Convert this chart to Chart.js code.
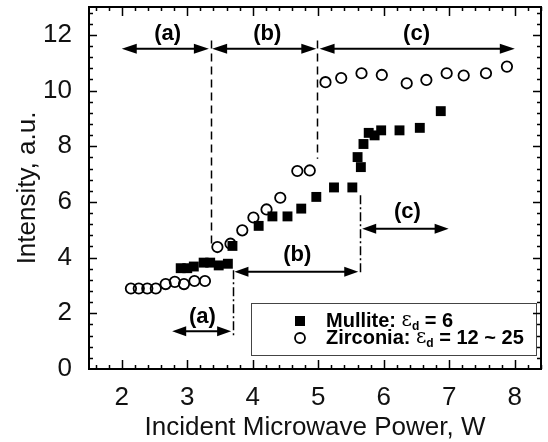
<!DOCTYPE html>
<html>
<head>
<meta charset="utf-8">
<script src="https://cdn.jsdelivr.net/npm/chart.js@4.4.0/dist/chart.umd.min.js"></script>
<style>
  html, body { margin: 0; padding: 0; background: #fff; }
  #wrap { width: 548px; height: 442px; }
</style>
</head>
<body>
<div id="wrap"><canvas id="chart"></canvas></div>
<script>
// Mullite (filled squares)
const mulliteX = [2.9, 3.0, 3.1, 3.25, 3.35, 3.48, 3.62, 3.69, 4.09, 4.3, 4.53, 4.74, 4.97, 5.24, 5.52, 5.6, 5.65, 5.69, 5.77, 5.86, 5.96, 6.24, 6.55, 6.87];
const mulliteY = [3.62, 3.62, 3.68, 3.82, 3.82, 3.72, 3.78, 4.42, 5.14, 5.48, 5.48, 5.76, 6.18, 6.52, 6.52, 7.61, 7.25, 8.08, 8.48, 8.39, 8.57, 8.57, 8.66, 9.26];

// Zirconia (open circles)
const zirconiaX = [2.14, 2.26, 2.39, 2.52, 2.67, 2.81, 2.95, 3.11, 3.27, 3.46, 3.66, 3.84, 4.01, 4.21, 4.42, 4.68, 4.87, 5.11, 5.35, 5.66, 5.97, 6.35, 6.65, 6.96, 7.22, 7.56, 7.88];
const zirconiaY = [2.89, 2.89, 2.89, 2.89, 3.05, 3.13, 3.05, 3.16, 3.16, 4.38, 4.5, 4.98, 5.44, 5.73, 6.15, 7.11, 7.13, 10.3, 10.45, 10.62, 10.56, 10.26, 10.38, 10.62, 10.54, 10.62, 10.86];

const xTicks = [2, 3, 4, 5, 6, 7, 8];
const yTicks = [0, 2, 4, 6, 8, 10, 12];

// heating regimes: dashed lines + arrows (data units)
const zirconiaSpans = [
  { label: '(a)', from: 2.0, to: 3.33, labelX: 2.7 },
  { label: '(b)', from: 3.38, to: 4.97, labelX: 4.22 },
  { label: '(c)', from: 5.02, to: 8.0, labelX: 6.5 }
];
const zirconiaBounds = [{ x: 3.36, top: 11.8, bottom: 4.5 }, { x: 4.98, top: 11.8, bottom: 7.55 }];
const mulliteSpans = [
  { label: '(a)', from: 2.77, to: 3.67, y: 1.36, labelX: 3.23, labelY: 1.87 },
  { label: '(b)', from: 3.72, to: 5.61, y: 3.49, labelX: 4.68, labelY: 4.1 },
  { label: '(c)', from: 5.67, to: 6.99, y: 5.04, labelX: 6.36, labelY: 5.64 }
];
const mulliteBounds = [{ x: 3.7, top: 3.55, bottom: 1.1 }, { x: 5.63, top: 6.24, bottom: 3.37 }];

const toPoints = (xs, ys) => xs.map((v, i) => ({ x: v, y: ys[i] }));

function arrowHead(ctx, x, y, dir, len, half) {
  ctx.beginPath();
  ctx.moveTo(x, y);
  ctx.lineTo(x - dir * len, y - half);
  ctx.lineTo(x - dir * len, y + half);
  ctx.closePath();
  ctx.fill();
}

function doubleArrow(ctx, x1, x2, y, len, half) {
  ctx.beginPath();
  ctx.moveTo(x1 + len - 1, y);
  ctx.lineTo(x2 - len + 1, y);
  ctx.stroke();
  arrowHead(ctx, x1, y, -1, len, half);
  arrowHead(ctx, x2, y, 1, len, half);
}

const annotate = {
  id: 'annotate',
  afterDatasetsDraw(chart) {
    const { ctx, chartArea: a, scales: { x, y } } = chart;
    const px = v => x.getPixelForValue(v);
    const py = v => y.getPixelForValue(v);
    ctx.save();
    ctx.strokeStyle = '#000';
    ctx.fillStyle = '#000';

    // vertical boundaries
    ctx.lineWidth = 1.5;
    ctx.setLineDash([8, 5]);
    zirconiaBounds.forEach(b => {
      ctx.beginPath();
      ctx.moveTo(Math.round(px(b.x)) + 0.5, py(b.top));
      ctx.lineTo(Math.round(px(b.x)) + 0.5, py(b.bottom));
      ctx.stroke();
    });
    ctx.setLineDash([9, 3, 2, 3]);
    mulliteBounds.forEach(b => {
      ctx.beginPath();
      ctx.moveTo(Math.round(px(b.x)) + 0.5, py(b.top));
      ctx.lineTo(Math.round(px(b.x)) + 0.5, py(b.bottom));
      ctx.stroke();
    });
    ctx.setLineDash([]);

    // arrows
    ctx.lineWidth = 2;
    ctx.font = 'bold 22px "Liberation Sans", Arial, sans-serif';
    ctx.textAlign = 'center';
    ctx.textBaseline = 'middle';
    zirconiaSpans.forEach(s => {
      doubleArrow(ctx, px(s.from), px(s.to), py(11.5), 15, 5);
      ctx.fillText(s.label, px(s.labelX), py(12.05));
    });
    mulliteSpans.forEach(s => {
      doubleArrow(ctx, px(s.from), px(s.to), py(s.y), 14, 5);
      ctx.fillText(s.label, px(s.labelX), py(s.labelY));
    });

    // legend
    const lx = a.right - 290, ly = a.bottom - 66, lw = 285, lh = 52;
    ctx.lineWidth = 1;
    ctx.strokeStyle = '#444';
    ctx.strokeRect(Math.round(lx) + 0.5, Math.round(ly) + 0.5, lw, lh);
    ctx.strokeStyle = '#000';
    const rows = [
      { name: 'Mullite:', val: ' = 6', style: 'rect', yy: ly + 18 },
      { name: 'Zirconia:', val: ' = 12 ~ 25', style: 'circle', yy: ly + 35 }
    ];
    rows.forEach(r => {
      const mx = lx + 49;
      if (r.style === 'rect') {
        ctx.fillRect(mx - 5, r.yy - 5, 10, 10);
      } else {
        ctx.lineWidth = 1.8;
        ctx.beginPath();
        ctx.arc(mx, r.yy, 5, 0, Math.PI * 2);
        ctx.stroke();
      }
      let tx = lx + 75;
      ctx.textAlign = 'left';
      ctx.textBaseline = 'middle';
      ctx.font = 'bold 20px "Liberation Sans", Arial, sans-serif';
      ctx.fillText(r.name + ' ', tx, r.yy);
      tx += ctx.measureText(r.name + ' ').width;
      ctx.font = '20px "DejaVu Serif", serif';
      ctx.fillText('\u03B5', tx, r.yy);
      tx += ctx.measureText('\u03B5').width;
      ctx.font = 'bold 12px "Liberation Sans", Arial, sans-serif';
      ctx.fillText('d', tx, r.yy + 6);
      tx += ctx.measureText('d').width;
      ctx.font = 'bold 20px "Liberation Sans", Arial, sans-serif';
      ctx.fillText(r.val, tx, r.yy);
    });
    ctx.restore();
  },
  afterDraw(chart) {
    const { ctx, chartArea: a, scales: { x, y } } = chart;
    ctx.save();
    ctx.strokeStyle = '#000';
    // inward ticks on all four sides
    ctx.lineWidth = 1.5;
    const tickX = (v, len) => {
      const p = Math.round(x.getPixelForValue(v)) + 0.5;
      ctx.beginPath();
      ctx.moveTo(p, a.bottom); ctx.lineTo(p, a.bottom - len);
      ctx.moveTo(p, a.top); ctx.lineTo(p, a.top + len);
      ctx.stroke();
    };
    const tickY = (v, len) => {
      const p = Math.round(y.getPixelForValue(v)) + 0.5;
      ctx.beginPath();
      ctx.moveTo(a.left, p); ctx.lineTo(a.left + len, p);
      ctx.moveTo(a.right, p); ctx.lineTo(a.right - len, p);
      ctx.stroke();
    };
    for (let i = 8; i <= 42; i++) {
      const v = i / 5;
      if (i % 5 === 0) tickX(v, 9); else tickX(v, 4);
    }
    for (let i = 1; i <= 32; i++) {
      const v = i * 0.4;
      if (i % 5 === 0) tickY(v, 8); else tickY(v, 4);
    }
    ctx.lineWidth = 2;
    ctx.strokeRect(a.left, a.top, a.right - a.left, a.bottom - a.top);
    ctx.restore();
  }
};

new Chart(document.getElementById('chart'), {
  type: 'scatter',
  data: {
    datasets: [
      {
        label: 'Mullite',
        data: toPoints(mulliteX, mulliteY),
        pointStyle: 'rect',
        pointRadius: 7,
        pointBackgroundColor: '#000',
        pointBorderColor: '#000',
        pointBorderWidth: 0
      },
      {
        label: 'Zirconia',
        data: toPoints(zirconiaX, zirconiaY),
        pointStyle: 'circle',
        pointRadius: 5.2,
        pointBackgroundColor: 'rgba(255,255,255,0)',
        pointBorderColor: '#000',
        pointBorderWidth: 1.8
      }
    ]
  },
  options: {
    responsive: true,
    maintainAspectRatio: false,
    animation: false,
    devicePixelRatio: 1,
    layout: { padding: { top: 6, right: 6, left: 0, bottom: 0 } },
    plugins: { legend: { display: false }, tooltip: { enabled: false } },
    scales: {
      x: {
        type: 'linear',
        min: 1.5,
        max: 8.4,
        afterBuildTicks: s => { s.ticks = xTicks.map(v => ({ value: v })); },
        afterFit: s => { s.height = 73; s.paddingLeft = 0; s.paddingRight = 0; },
        grid: { display: false },
        border: { display: false },
        ticks: { color: '#111', padding: 5, font: { family: '"Liberation Sans", Arial, sans-serif', size: 26 } },
        title: {
          display: true,
          text: 'Incident Microwave Power, W',
          color: '#111',
          padding: { top: 0, bottom: 0 },
          font: { family: '"Liberation Sans", Arial, sans-serif', size: 26, lineHeight: 1.1 }
        }
      },
      y: {
        min: 0,
        max: 13,
        afterBuildTicks: s => { s.ticks = yTicks.map(v => ({ value: v })); },
        afterFit: s => { s.width = 89; s.paddingTop = 0; s.paddingBottom = 0; },
        grid: { display: false },
        border: { display: false },
        ticks: { color: '#111', padding: 9, font: { family: '"Liberation Sans", Arial, sans-serif', size: 26 } },
        title: {
          display: true,
          text: 'Intensity, a.u.',
          color: '#111',
          padding: { top: 12, bottom: 0 },
          font: { family: '"Liberation Sans", Arial, sans-serif', size: 26 }
        }
      }
    }
  },
  plugins: [annotate]
});
</script>
</body>
</html>
